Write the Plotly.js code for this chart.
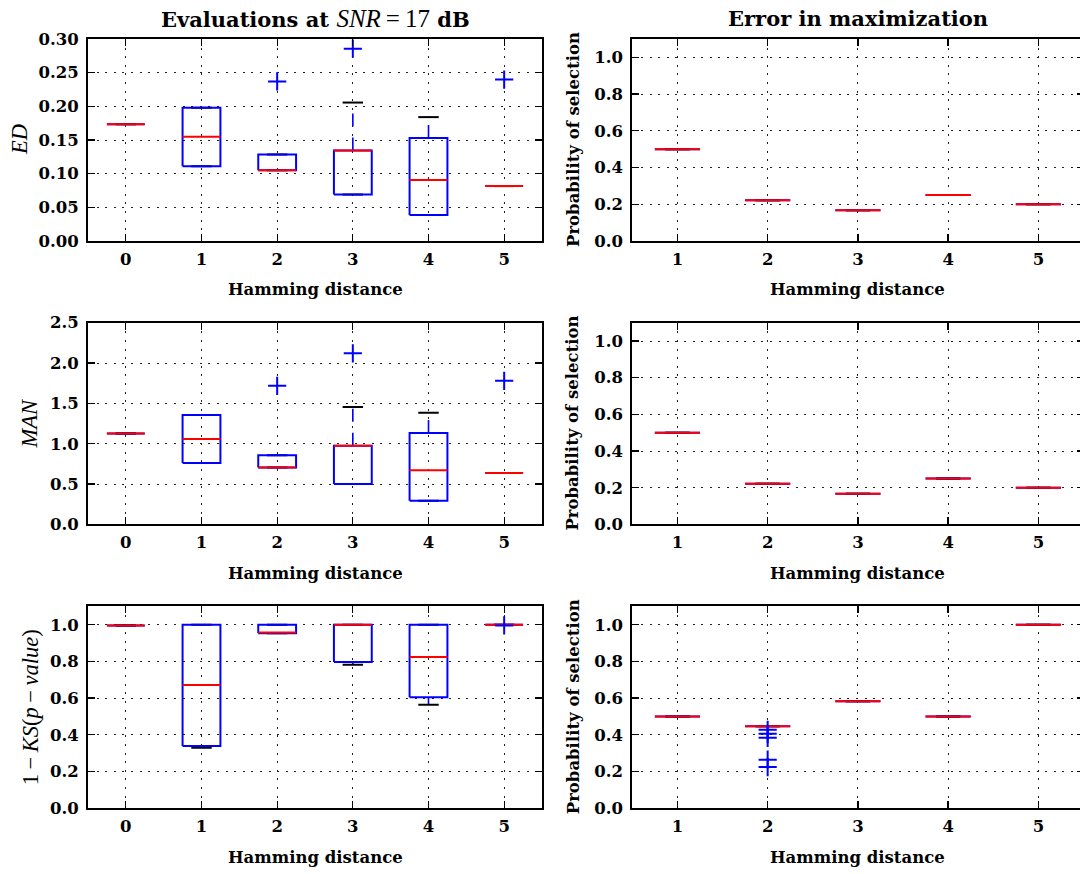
<!DOCTYPE html>
<html>
<head>
<meta charset="utf-8">
<script src="https://cdn.plot.ly/plotly-3.0.1.min.js"></script>
<style>
  html, body { margin: 0; padding: 0; overflow: hidden; background: #fff; }
  #chart { width: 1086px; height: 874px; }
</style>
</head>
<body>
<div id="chart"></div>
<script>
// ---------------- data ----------------
// Hamming distances
const hdAll = [0, 1, 2, 3, 4, 5];
const hdErr = [1, 2, 3, 4, 5];

// ED (Euclidean distance) boxes
const edQ1  = [0.1735, 0.111, 0.105, 0.069, 0.0386, 0.0816];
const edMed = [0.1735, 0.155, 0.105, 0.1345, 0.0905, 0.0816];
const edQ3  = [0.1735, 0.198, 0.1285, 0.1345, 0.153, 0.0816];
const edLo  = [0.1735, 0.111, 0.105, 0.069, 0.0386, 0.0816];
const edHi  = [0.1735, 0.198, 0.1285, 0.2056, 0.184, 0.0816];
const edFlierX = [2, 3, 5];
const edFlierY = [0.237, 0.2857, 0.2397];

// MAN (Manhattan distance) boxes
const manQ1  = [1.128, 0.762, 0.704, 0.502, 0.292, 0.638];
const manMed = [1.128, 1.058, 0.704, 0.976, 0.671, 0.638];
const manQ3  = [1.128, 1.355, 0.857, 0.976, 1.133, 0.638];
const manLo  = [1.128, 0.762, 0.704, 0.502, 0.292, 0.638];
const manHi  = [1.128, 1.355, 0.857, 1.454, 1.384, 0.638];
const manFlierX = [2, 3, 5];
const manFlierY = [1.717, 2.121, 1.779];

// 1 - KS(p-value) boxes
const ksQ1  = [0.996, 0.338, 0.953, 0.797, 0.605, 1.0];
const ksMed = [0.996, 0.672, 0.957, 1.0, 0.824, 1.0];
const ksQ3  = [0.996, 1.0, 1.0, 1.0, 1.0, 1.0];
const ksLo  = [0.996, 0.329, 0.953, 0.782, 0.564, 1.0];
const ksHi  = [0.996, 1.0, 1.0, 1.0, 1.0, 1.0];
const ksFlierX = [5];
const ksFlierY = [0.996];

// Probability of selection (error in maximization)
const probEd  = [0.5, 0.222, 0.167, 0.25, 0.2];
const probMan = [0.5, 0.222, 0.167, 0.25, 0.2];
const probKs  = [0.5, 0.446, 0.583, 0.5, 1.0];
const probKsFlierX = [2, 2, 2, 2, 2];
const probKsFlierY = [0.427, 0.405, 0.383, 0.264, 0.224];

// ---------------- style ----------------
const BLUE = '#0000ff', RED = '#ff0000', BLACK = '#000000';
const BOX_HALF = 0.25, CAP_HALF = 0.135;
const W = 1086, H = 874;
const SERIF = 'DejaVu Serif';
const MATH = 'Liberation Serif';

// matplotlib-style box plot built from precomputed statistics
function boxTraces(xa, ya, pos, q1, med, q3, lo, hi, fx, fy) {
  const wx = [], wy = [], cx = [], cy = [], bx = [], by = [], mx = [], my = [];
  pos.forEach((p, i) => {
    if (hi[i] > q3[i]) { wx.push(p, p, null); wy.push(q3[i], hi[i], null); }
    if (lo[i] < q1[i]) { wx.push(p, p, null); wy.push(q1[i], lo[i], null); }
    cx.push(p - CAP_HALF, p + CAP_HALF, null, p - CAP_HALF, p + CAP_HALF, null);
    cy.push(hi[i], hi[i], null, lo[i], lo[i], null);
    bx.push(p - BOX_HALF, p + BOX_HALF, p + BOX_HALF, p - BOX_HALF, p - BOX_HALF, null);
    by.push(q1[i], q1[i], q3[i], q3[i], q1[i], null);
    mx.push(p - BOX_HALF, p + BOX_HALF, null);
    my.push(med[i], med[i], null);
  });
  const common = { xaxis: xa, yaxis: ya, mode: 'lines', hoverinfo: 'skip', showlegend: false };
  const out = [
    Object.assign({ x: wx, y: wy, line: { color: BLUE, width: 1.6, dash: '13px,11px' } }, common),
    Object.assign({ x: cx, y: cy, line: { color: BLACK, width: 2 } }, common),
    Object.assign({ x: bx, y: by, line: { color: BLUE, width: 2 } }, common),
    Object.assign({ x: mx, y: my, line: { color: RED, width: 2 } }, common)
  ];
  if (fx && fx.length) {
    out.push({ x: fx, y: fy, xaxis: xa, yaxis: ya, mode: 'markers', hoverinfo: 'skip', showlegend: false,
      marker: { symbol: 'cross-thin-open', size: 13, color: BLUE, line: { color: BLUE, width: 2 } } });
  }
  return out;
}

let traces = [];
traces = traces.concat(boxTraces('x', 'y', hdAll, edQ1, edMed, edQ3, edLo, edHi, edFlierX, edFlierY));
traces = traces.concat(boxTraces('x2', 'y2', hdErr, probEd, probEd, probEd, probEd, probEd, [], []));
traces = traces.concat(boxTraces('x3', 'y3', hdAll, manQ1, manMed, manQ3, manLo, manHi, manFlierX, manFlierY));
traces = traces.concat(boxTraces('x4', 'y4', hdErr, probMan, probMan, probMan, probMan, probMan, [], []));
traces = traces.concat(boxTraces('x5', 'y5', hdAll, ksQ1, ksMed, ksQ3, ksLo, ksHi, ksFlierX, ksFlierY));
traces = traces.concat(boxTraces('x6', 'y6', hdErr, probKs, probKs, probKs, probKs, probKs, probKsFlierX, probKsFlierY));

// ---------------- layout ----------------
const colX = [[88, 542], [632.3, 1083.5]];
const rowY = [[39, 241], [322.7, 524.4], [606.4, 808.1]];
const GRID_DASH = '2px,6.6px';
const TICK_FONT = { family: SERIF, size: 16.5, color: BLACK, weight: 'bold' };

function xAxis(col, row, anchor) {
  const cats = col === 0 ? hdAll : hdErr;
  return {
    domain: [colX[col][0] / W, colX[col][1] / W],
    anchor: anchor,
    range: col === 0 ? [-0.5, 5.5] : [0.5, 5.5],
    tickmode: 'array', tickvals: cats, ticktext: cats.map(String),
    showgrid: true, gridcolor: '#222', gridwidth: 1, griddash: GRID_DASH,
    zeroline: false, showline: true, linecolor: BLACK, linewidth: 2, mirror: 'allticks',
    ticks: 'inside', ticklen: 7, tickwidth: 1.3, tickcolor: BLACK,
    tickfont: TICK_FONT,
    ticklabelstandoff: 2
  };
}
function yAxis(col, row, anchor, range, vals, fmt) {
  return {
    domain: [1 - rowY[row][1] / H, 1 - rowY[row][0] / H],
    anchor: anchor, range: range,
    tickmode: 'array', tickvals: vals, ticktext: vals.map(v => v.toFixed(fmt)),
    showgrid: true, gridcolor: '#222', gridwidth: 1, griddash: GRID_DASH,
    zeroline: false, showline: true, linecolor: BLACK, linewidth: 2, mirror: 'allticks',
    ticks: 'inside', ticklen: 7, tickwidth: 1.3, tickcolor: BLACK,
    tickfont: TICK_FONT,
    ticklabelstandoff: 4
  };
}

const edTicks = [0, 0.05, 0.10, 0.15, 0.20, 0.25, 0.30];
const manTicks = [0, 0.5, 1.0, 1.5, 2.0, 2.5];
const probTicks = [0, 0.2, 0.4, 0.6, 0.8, 1.0];

const layout = {
  width: W, height: H,
  margin: { l: 0, r: 0, t: 0, b: 0, pad: 0 },
  paper_bgcolor: '#fff', plot_bgcolor: '#fff',
  showlegend: false,
  xaxis:  xAxis(0, 0, 'y'),  yaxis:  yAxis(0, 0, 'x',  [0, 0.30], edTicks, 2),
  xaxis2: xAxis(1, 0, 'y2'), yaxis2: yAxis(1, 0, 'x2', [0, 1.1], probTicks, 1),
  xaxis3: xAxis(0, 1, 'y3'), yaxis3: yAxis(0, 1, 'x3', [0, 2.5], manTicks, 1),
  xaxis4: xAxis(1, 1, 'y4'), yaxis4: yAxis(1, 1, 'x4', [0, 1.1], probTicks, 1),
  xaxis5: xAxis(0, 2, 'y5'), yaxis5: yAxis(0, 2, 'x5', [0, 1.1], probTicks, 1),
  xaxis6: xAxis(1, 2, 'y6'), yaxis6: yAxis(1, 2, 'x6', [0, 1.1], probTicks, 1),
  annotations: []
};

function note(text, px, py, opts) {
  layout.annotations.push(Object.assign({
    text: text, x: px / W, y: 1 - py / H, xref: 'paper', yref: 'paper',
    xanchor: 'center', yanchor: 'middle', showarrow: false,
    font: { family: SERIF, size: 16.5, color: BLACK }
  }, opts || {}));
}

// column titles
note('<b>Evaluations at </b><span style="font-family:' + MATH + ';font-style:italic;font-size:25px">SNR</span>' +
     '<span style="font-family:' + MATH + ';font-size:25px">\u2009=\u200917</span><b> dB</b>', 315, 18,
     { font: { family: SERIF, size: 21, color: BLACK } });
note('<b>Error in maximization</b>', 858, 18, { font: { family: SERIF, size: 21, color: BLACK } });

// x-axis titles
const xCenters = [(colX[0][0] + colX[0][1]) / 2, (colX[1][0] + colX[1][1]) / 2];
const xTitleY = [290, 573.7, 857.4];
xTitleY.forEach(yy => {
  note('<b>Hamming distance</b>', xCenters[0], yy);
  note('<b>Hamming distance</b>', xCenters[1], yy);
});

// y-axis titles
const rowC = rowY.map(r => (r[0] + r[1]) / 2);
const mathFont = { family: MATH, size: 22.5, color: BLACK, style: 'italic' };
note('ED', 19, rowC[0], { textangle: -90, font: mathFont });
note('MAN', 30, rowC[1], { textangle: -90, font: mathFont });
note('<span style="font-style:normal">1\u2009\u2212\u2009</span>KS<span style="font-style:normal">(</span>p' +
     '<span style="font-style:normal">\u2009\u2212\u2009</span>value<span style="font-style:normal">)</span>',
     30, rowC[2], { textangle: -90, font: mathFont });
rowC.forEach(yc => note('<b>Probability of selection</b>', 573, yc, { textangle: -90 }));

Plotly.newPlot('chart', traces, layout, { staticPlot: true, displayModeBar: false });
</script>
</body>
</html>
